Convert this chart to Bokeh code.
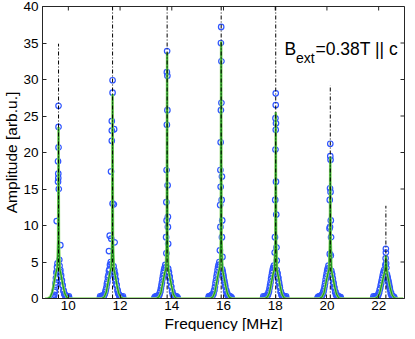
from math import pi
from bokeh.plotting import figure
from bokeh.models import FixedTicker, Label, Title
from bokeh.embed import file_html
from bokeh.resources import INLINE

# ---- axis ticks ----
x_ticks = [10, 12, 14, 16, 18, 20, 22]
y_ticks = [0, 5, 10, 15, 20, 25, 30, 35, 40]
x_lim = (9, 23)
y_lim = (0, 40)

# ---- dash-dot marker lines (line positions and tops) ----
line_freq = [9.62, 11.71, 13.82, 15.91, 18.02, 20.13, 22.28]
line_top = [34.9, 40.0, 40.0, 40.0, 40.0, 29.2, 12.7]
line_base = [0, 0, 0, 0, 0, 0, 0]

# ---- measured data, one list per line (first sweep) ----
p1_freq = [9.42, 9.44, 9.46, 9.48, 9.50, 9.52, 9.54, 9.56, 9.58,
           9.66, 9.69, 9.72, 9.75, 9.78, 9.81, 9.84, 9.88, 9.92, 9.96, 10.00, 10.04,
           9.62, 9.62, 9.62, 9.60, 9.61, 9.61, 9.60, 9.63, 9.55, 9.69, 9.65]
p1_amp = [0.0, 0.2, 0.5, 1.1, 1.9, 2.8, 3.6, 4.3, 4.8,
          4.5, 3.9, 3.2, 2.5, 1.8, 1.1, 0.6, 0.3, 0.1, 0.0, 0.0, 0.0,
          26.4, 23.5, 20.7, 18.8, 17.1, 16.5, 16.0, 15.0, 10.6, 7.3, 5.3]

p2_freq = [11.21, 11.25, 11.29, 11.33, 11.37, 11.41, 11.45, 11.49, 11.53, 11.57, 11.61, 11.64, 11.67,
           11.75, 11.78, 11.81, 11.84, 11.87, 11.90, 11.93, 11.97, 12.01, 12.05, 12.09, 12.13,
           11.71, 11.71, 11.68, 11.77, 11.68, 11.68, 11.65, 11.71, 11.76, 11.60, 11.66, 11.79, 11.57]
p2_amp = [0.0, 0.0, 0.1, 0.2, 0.3, 0.6, 1.2, 2.0, 2.9, 3.8, 4.6, 5.0, 4.7,
          4.4, 3.9, 3.3, 2.6, 1.9, 1.2, 0.7, 0.3, 0.1, 0.0, 0.0, 0.0,
          29.9, 28.2, 24.3, 23.2, 23.0, 21.6, 17.4, 13.0, 12.9, 8.6, 8.2, 7.7, 6.5]

p3_freq = [13.32, 13.36, 13.40, 13.44, 13.48, 13.52, 13.56, 13.60, 13.64, 13.68, 13.72, 13.75, 13.78,
           13.86, 13.89, 13.92, 13.95, 13.98, 14.01, 14.04, 14.08, 14.12, 14.16, 14.20, 14.24,
           13.82, 13.81, 13.83, 13.83, 13.81, 13.80, 13.84, 13.79, 13.85, 13.80, 13.85, 13.78, 13.86, 13.79]
p3_amp = [0.0, 0.0, 0.1, 0.1, 0.2, 0.5, 1.0, 1.8, 2.7, 3.5, 4.2, 4.6, 4.3,
          4.1, 3.6, 3.0, 2.3, 1.6, 1.0, 0.5, 0.2, 0.1, 0.0, 0.0, 0.0,
          33.9, 31.0, 30.5, 25.8, 23.8, 17.6, 15.5, 13.2, 11.2, 10.7, 9.8, 8.4, 7.5, 6.2]

p4_freq = [15.41, 15.45, 15.49, 15.53, 15.57, 15.61, 15.65, 15.69, 15.73, 15.77, 15.81, 15.84, 15.87,
           15.95, 15.98, 16.01, 16.04, 16.07, 16.10, 16.13, 16.17, 16.21, 16.25, 16.29, 16.33,
           15.91, 15.90, 15.92, 15.92, 15.90, 15.89, 15.88, 15.94, 15.89, 15.93, 15.87, 15.95, 15.88, 15.94, 15.86, 15.96]
p4_amp = [0.0, 0.0, 0.1, 0.1, 0.3, 0.6, 1.2, 2.1, 3.0, 3.9, 4.6, 5.0, 4.6,
          4.0, 3.4, 2.8, 2.2, 1.6, 1.0, 0.6, 0.3, 0.1, 0.0, 0.0, 0.0,
          37.2, 35.0, 32.5, 26.8, 25.8, 21.4, 17.6, 16.7, 15.3, 13.5, 12.8, 10.7, 9.8, 8.4, 6.6, 5.7]

p5_freq = [17.52, 17.56, 17.60, 17.64, 17.68, 17.72, 17.76, 17.80, 17.84, 17.88, 17.92, 17.95, 17.98,
           18.06, 18.09, 18.12, 18.15, 18.18, 18.21, 18.24, 18.28, 18.32, 18.36, 18.40, 18.44,
           18.02, 18.02, 18.01, 18.03, 18.02, 18.01, 18.03, 18.00, 18.04, 17.99, 18.05, 17.98, 18.06]
p5_amp = [0.0, 0.0, 0.1, 0.1, 0.2, 0.5, 1.0, 1.8, 2.7, 3.5, 4.2, 4.5, 4.2,
          3.9, 3.4, 2.8, 2.1, 1.5, 0.9, 0.5, 0.2, 0.1, 0.0, 0.0, 0.0,
          28.1, 26.5, 24.7, 24.0, 23.1, 20.4, 16.0, 13.5, 11.5, 8.4, 7.0, 6.3, 5.2]

p6_freq = [19.63, 19.67, 19.71, 19.75, 19.79, 19.83, 19.87, 19.91, 19.95, 19.99, 20.03, 20.06, 20.09,
           20.17, 20.20, 20.23, 20.26, 20.29, 20.32, 20.35, 20.39, 20.43, 20.47, 20.51, 20.55,
           20.13, 20.13, 20.14, 20.12, 20.14, 20.11, 20.15, 20.12, 20.10, 20.16, 20.11, 20.15]
p6_amp = [0.0, 0.0, 0.1, 0.1, 0.2, 0.5, 1.0, 1.7, 2.6, 3.4, 4.1, 4.5, 4.2,
          3.8, 3.3, 2.7, 2.0, 1.4, 0.9, 0.5, 0.2, 0.1, 0.0, 0.0, 0.0,
          21.2, 19.5, 19.0, 15.1, 14.6, 13.5, 10.7, 9.8, 9.6, 8.4, 6.1, 5.9]

p7_freq = [21.78, 21.82, 21.86, 21.90, 21.94, 21.98, 22.02, 22.06, 22.10, 22.14, 22.18, 22.21, 22.24,
           22.32, 22.35, 22.38, 22.41, 22.44, 22.47, 22.50, 22.54, 22.58, 22.62,
           22.28, 22.28, 22.27, 22.29, 22.26, 22.30]
p7_amp = [0.0, 0.0, 0.1, 0.1, 0.2, 0.4, 0.8, 1.4, 2.1, 2.8, 3.5, 3.9, 3.7,
          3.3, 2.8, 2.3, 1.7, 1.2, 0.7, 0.4, 0.2, 0.1, 0.0,
          6.8, 6.3, 5.5, 4.8, 4.6, 4.2]

# ---- measured data, second sweep ----
s1_freq = [9.43, 9.47, 9.51, 9.55, 9.68, 9.71, 9.74, 9.77, 9.82, 9.86, 9.90, 9.94, 9.98, 10.02]
s1_amp = [0.3, 0.9, 2.2, 3.5, 3.6, 3.0, 2.4, 1.8, 1.0, 0.6, 0.4, 0.3, 0.2, 0.3]
s2_freq = [11.23, 11.27, 11.31, 11.35, 11.39, 11.43, 11.47, 11.51, 11.55, 11.59,
           11.77, 11.80, 11.83, 11.86, 11.91, 11.95, 11.99, 12.03, 12.07, 12.11]
s2_amp = [0.3, 0.2, 0.4, 0.3, 0.5, 0.9, 1.5, 2.3, 3.2, 4.0, 3.6, 3.0, 2.4, 1.8, 1.0, 0.6, 0.4, 0.3, 0.2, 0.3]
s3_freq = [13.34, 13.38, 13.42, 13.46, 13.50, 13.54, 13.58, 13.62, 13.66, 13.70,
           13.88, 13.91, 13.94, 13.97, 14.02, 14.06, 14.10, 14.14, 14.18, 14.22]
s3_amp = [0.2, 0.3, 0.3, 0.4, 0.4, 0.8, 1.4, 2.2, 3.1, 3.9, 3.5, 2.9, 2.3, 1.7, 0.9, 0.5, 0.4, 0.3, 0.3, 0.2]
s4_freq = [15.43, 15.47, 15.51, 15.55, 15.59, 15.63, 15.67, 15.71, 15.75, 15.79,
           15.97, 16.00, 16.03, 16.06, 16.11, 16.15, 16.19, 16.23, 16.27, 16.31]
s4_amp = [0.3, 0.3, 0.4, 0.5, 0.6, 1.0, 1.6, 2.5, 3.4, 4.3, 3.7, 3.1, 2.5, 1.9, 1.1, 0.7, 0.4, 0.3, 0.3, 0.2]
s5_freq = [17.54, 17.58, 17.62, 17.66, 17.70, 17.74, 17.78, 17.82, 17.86, 17.90,
           18.08, 18.11, 18.14, 18.17, 18.22, 18.26, 18.30, 18.34, 18.38, 18.42]
s5_amp = [0.3, 0.2, 0.3, 0.4, 0.5, 0.8, 1.4, 2.2, 3.1, 3.9, 3.5, 2.9, 2.3, 1.7, 0.9, 0.5, 0.4, 0.3, 0.2, 0.3]
s6_freq = [19.65, 19.69, 19.73, 19.77, 19.81, 19.85, 19.89, 19.93, 19.97, 20.01,
           20.19, 20.22, 20.25, 20.28, 20.33, 20.37, 20.41, 20.45, 20.49, 20.53]
s6_amp = [0.2, 0.3, 0.3, 0.4, 0.5, 0.8, 1.3, 2.1, 3.0, 3.8, 3.4, 2.8, 2.2, 1.6, 0.9, 0.5, 0.4, 0.3, 0.2, 0.2]
s7_freq = [21.80, 21.84, 21.88, 21.92, 21.96, 22.00, 22.04, 22.08, 22.12, 22.16,
           22.34, 22.37, 22.40, 22.43, 22.48, 22.52, 22.56, 22.60]
s7_amp = [0.3, 0.2, 0.3, 0.3, 0.4, 0.7, 1.2, 1.8, 2.5, 3.2, 3.0, 2.5, 2.0, 1.5, 0.8, 0.4, 0.3, 0.2]

# ---- fitted curve ----
fit_freq = [9.10,
            9.20, 9.30, 9.38, 9.45, 9.52, 9.57, 9.605, 9.62, 9.635, 9.67, 9.72, 9.79, 9.86, 9.94, 10.04,
            11.29, 11.39, 11.47, 11.54, 11.61, 11.66, 11.695, 11.71, 11.725, 11.76, 11.81, 11.88, 11.95, 12.03, 12.13,
            13.40, 13.50, 13.58, 13.65, 13.72, 13.77, 13.805, 13.82, 13.835, 13.87, 13.92, 13.99, 14.06, 14.14, 14.24,
            15.49, 15.59, 15.67, 15.74, 15.81, 15.86, 15.895, 15.91, 15.925, 15.96, 16.01, 16.08, 16.15, 16.23, 16.33,
            17.60, 17.70, 17.78, 17.85, 17.92, 17.97, 18.005, 18.02, 18.035, 18.07, 18.12, 18.19, 18.26, 18.34, 18.44,
            19.71, 19.81, 19.89, 19.96, 20.03, 20.08, 20.115, 20.13, 20.145, 20.18, 20.23, 20.30, 20.37, 20.45, 20.55,
            21.86, 21.96, 22.04, 22.11, 22.18, 22.23, 22.265, 22.28, 22.295, 22.33, 22.38, 22.45, 22.52, 22.60, 22.70,
            22.95]
fit_amp = [0.0,
           0, 0.2, 0.9, 2.2, 3.5, 4.2, 8, 23.5, 8, 4.0, 3.2, 1.8, 0.7, 0.15, 0,
           0, 0.2, 0.9, 2.3, 3.6, 4.3, 8, 28.0, 8, 4.1, 3.2, 1.8, 0.7, 0.15, 0,
           0, 0.2, 0.8, 2.1, 3.4, 4.1, 8, 33.7, 8, 3.9, 3.0, 1.7, 0.6, 0.1, 0,
           0, 0.2, 0.9, 2.3, 3.6, 4.3, 8, 35.2, 8, 4.0, 3.1, 1.8, 0.7, 0.15, 0,
           0, 0.2, 0.8, 2.1, 3.4, 4.0, 8, 25.5, 8, 3.8, 3.0, 1.7, 0.6, 0.1, 0,
           0, 0.2, 0.8, 2.1, 3.3, 4.0, 8, 19.4, 8, 3.8, 2.9, 1.6, 0.6, 0.1, 0,
           0, 0.2, 0.7, 1.8, 2.9, 3.6, 4.6, 5.9, 4.6, 3.4, 2.6, 1.4, 0.5, 0.1, 0,
           0.0]

FONT = "Liberation Sans"
FRAME = "#262626"

p = figure(width=405, height=331, x_range=x_lim, y_range=y_lim,
           output_backend="svg", toolbar_location=None,
           min_border_left=36, min_border_right=1, min_border_top=6, min_border_bottom=30,
           background_fill_color="white", border_fill_color="white")
p.grid.visible = False
p.outline_line_color = FRAME
p.outline_line_width = 1

for ax, ticks in ((p.xaxis[0], x_ticks), (p.yaxis[0], y_ticks)):
    ax.ticker = FixedTicker(ticks=ticks)
    ax.major_tick_in = 4
    ax.major_tick_out = 0
    ax.minor_tick_line_color = None
    ax.axis_line_color = FRAME
    ax.major_tick_line_color = FRAME
    ax.major_label_text_font = FONT
    ax.major_label_text_font_size = "13.5px"
    ax.major_label_text_color = "black"
    ax.axis_label_text_font = FONT
    ax.axis_label_text_font_size = "15.5px"
    ax.axis_label_text_font_style = "normal"
    ax.axis_label_text_color = "black"

p.yaxis.axis_label = "Amplitude [arb.u.]"
p.xaxis.major_label_standoff = 2
p.yaxis.major_label_standoff = 4
p.yaxis.axis_label_standoff = 0

# x axis title in the panel below the axis
p.add_layout(Title(text="Frequency [MHz]", align="center", text_font=FONT,
                   text_font_size="15.5px", text_font_style="normal",
                   text_color="black", standoff=0), "below")

# inward ticks on the top and right edges of the box
p.scatter(x_ticks, [y_lim[1]] * len(x_ticks), marker="dash", angle=pi / 2, size=8,
          line_color=FRAME, line_width=1)
p.scatter([x_lim[1]] * len(y_ticks), y_ticks, marker="dash", size=8,
          line_color=FRAME, line_width=1)

all_freq = (p1_freq + p2_freq + p3_freq + p4_freq + p5_freq + p6_freq + p7_freq
            + s1_freq + s2_freq + s3_freq + s4_freq + s5_freq + s6_freq + s7_freq)
all_amp = (p1_amp + p2_amp + p3_amp + p4_amp + p5_amp + p6_amp + p7_amp
           + s1_amp + s2_amp + s3_amp + s4_amp + s5_amp + s6_amp + s7_amp)

p.scatter(all_freq, all_amp, marker="circle", size=5.5, fill_color=None,
          line_color="#2f55ff", line_width=1.2)

p.line(fit_freq, fit_amp, line_color="#8fd870", line_width=2.6)
p.line(fit_freq, fit_amp, line_color="#1f9a1f", line_width=1.2)

p.segment(x0=line_freq, y0=line_base, x1=line_freq, y1=line_top,
          line_color="black", line_width=1, line_dash="4 2 1 2")

p.add_layout(Label(x=18.36, y=34.17, text="B", text_font=FONT, text_font_size="17.5px",
                   text_baseline="alphabetic", text_align="left", text_color="black"))
p.add_layout(Label(x=18.80, y=33.0, text="ext", text_font=FONT, text_font_size="14px",
                   text_baseline="alphabetic", text_align="left", text_color="black"))
p.add_layout(Label(x=19.56, y=34.17, text="=0.38T || c", text_font=FONT, text_font_size="17.5px",
                   text_baseline="alphabetic", text_align="left", text_color="black"))

open("out.html", "w").write(file_html(p, INLINE))
